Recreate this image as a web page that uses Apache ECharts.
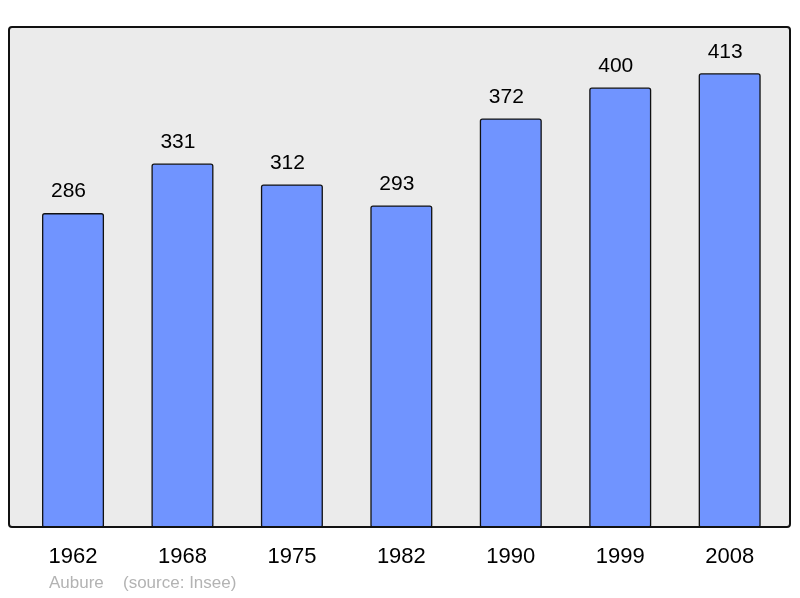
<!DOCTYPE html>
<html><head><meta charset="utf-8">
<script src="https://cdn.jsdelivr.net/npm/echarts@6/dist/echarts.min.js"></script>
<style>html,body{margin:0;padding:0;background:#fff}#c{width:800px;height:598px}</style>
</head><body><div id="c"></div>
<script>
const years = ['1962','1968','1975','1982','1990','1999','2008'];
const population = [286, 331, 312, 293, 372, 400, 413];
const placeName = 'Aubure';
const sourceText = '(source: Insee)';

const chart = echarts.init(document.getElementById('c'), null, {renderer:'canvas'});
chart.setOption({
  animation: false,
  backgroundColor: '#ffffff',
  textStyle: {fontFamily: '"Liberation Sans", Arial, sans-serif'},
  grid: {left: 18.3, right: 15.6, top: 27, bottom: 70, containLabel: false},
  xAxis: {
    type: 'category', data: years,
    axisLine: {show: false}, axisTick: {show: false},
    axisLabel: {fontSize: 22, color: '#000', margin: 18, fontFamily: '"Liberation Sans", Arial, sans-serif'}
  },
  yAxis: {type: 'value', min: 0, max: 455, show: false, splitLine: {show: false}},
  graphic: [
    {type: 'rect', z: -10, silent: true, shape: {x: 9, y: 27, width: 781, height: 500, r: 3},
     style: {fill: '#ebebeb', stroke: null}},
    {type: 'rect', z: 100, silent: true, shape: {x: 9, y: 27, width: 781, height: 500, r: 3},
     style: {fill: null, stroke: '#111', lineWidth: 2}},
    {type: 'text', left: 49, top: 575, silent: true,
     style: {text: placeName, fontSize: 17, fill: '#b3b3b3', fontFamily: '"Liberation Sans", Arial, sans-serif'}},
    {type: 'text', left: 123, top: 575, silent: true,
     style: {text: sourceText, fontSize: 17, fill: '#b3b3b3', fontFamily: '"Liberation Sans", Arial, sans-serif'}}
  ],
  series: [{
    type: 'bar', data: population, barWidth: 62,
    itemStyle: {color: '#7094ff', borderColor: '#111', borderWidth: 1.3, borderRadius: 2},
    label: {show: true, position: 'top', distance: 11, offset: [-4.5, 0], fontSize: 21, color: '#000',
            fontFamily: '"Liberation Sans", Arial, sans-serif'}
  }]
});
</script></body></html>
